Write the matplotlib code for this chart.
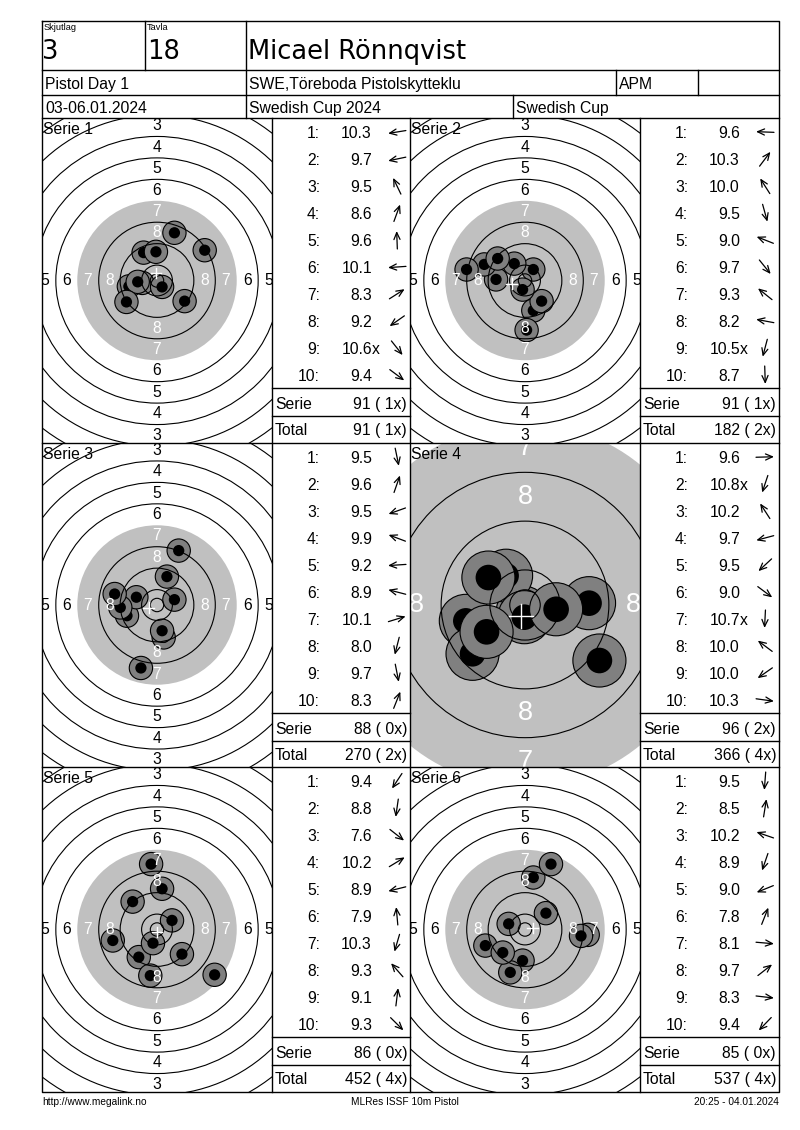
import numpy as np
import matplotlib
matplotlib.use("Agg")
import matplotlib.pyplot as plt
from matplotlib.patches import Circle

# header texts
RELAY = "3"
LANE = "18"
SHOOTER = "Micael Rönnqvist"
EVENT = "Pistol Day 1"
CLUB = "SWE,Töreboda Pistolskytteklu"
CLASS = "APM"
DATES = "03-06.01.2024"
COMPETITION = "Swedish Cup 2024"
CUP = "Swedish Cup"
FOOTER = ["http://www.megalink.no", "MLRes ISSF 10m Pistol", "20:25 - 04.01.2024"]

# decimal scores per series
SCORES = [
    [10.3, 9.7, 9.5, 8.6, 9.6, 10.1, 8.3, 9.2, 10.6, 9.4],
    [9.6, 10.3, 10.0, 9.5, 9.0, 9.7, 9.3, 8.2, 10.5, 8.7],
    [9.5, 9.6, 9.5, 9.9, 9.2, 8.9, 10.1, 8.0, 9.7, 8.3],
    [9.6, 10.8, 10.2, 9.7, 9.5, 9.0, 10.7, 10.0, 10.0, 10.3],
    [9.4, 8.8, 7.6, 10.2, 8.9, 7.9, 10.3, 9.3, 9.1, 9.3],
    [9.5, 8.5, 10.2, 8.9, 9.0, 7.8, 8.1, 9.7, 8.3, 9.4],
]
INNER_TEN = [
    [0, 0, 0, 0, 0, 0, 0, 0, 1, 0],
    [0, 0, 0, 0, 0, 0, 0, 0, 1, 0],
    [0, 0, 0, 0, 0, 0, 0, 0, 0, 0],
    [0, 1, 0, 0, 0, 0, 1, 0, 0, 0],
    [0, 0, 0, 0, 0, 0, 0, 0, 0, 0],
    [0, 0, 0, 0, 0, 0, 0, 0, 0, 0],
]
# shot positions on the target, mm from centre (y up)
SHOT_X = [
    [-5.5, -10.5, -5.0, 6.5, -0.4, -7.2, 17.8, -11.4, 1.9, 10.3],
    [-10.8, 3.1, -4.0, 3.1, -15.2, 6.2, -10.2, -21.8, -0.9, 0.6],
    [2.5, 3.7, -11.2, -7.7, -13.7, -15.8, 6.5, -6.0, 1.9, 8.1],
    [10.5, -0.4, -3.1, -9.7, -8.6, 12.2, -0.1, -6.0, -6.3, 5.1],
    [-6.8, -2.5, 21.5, 5.6, -16.5, -2.2, -1.5, -9.1, 1.9, 9.3],
    [-0.9, 3.1, -6.1, -5.5, -14.8, 9.7, 23.4, 7.8, 20.9, -8.3],
]
SHOT_Y = [
    [-0.9, -2.2, 10.4, 17.8, 10.7, -0.5, 11.3, -8.0, -2.4, -7.7],
    [0.4, 4.1, 6.3, -11.2, 6.0, -7.7, 8.2, 4.1, -3.4, -18.5],
    [-12.1, 10.6, -4.0, 2.9, -0.9, 4.1, 2.0, -23.5, -9.6, 20.3],
    [0.3, -1.2, 4.8, -2.6, -8.0, -9.1, -2.0, 4.5, -4.4, -0.7],
    [-10.3, -17.2, -16.9, 3.4, -4.1, 24.4, -5.1, 10.4, 15.2, -9.2],
    [-11.6, 19.4, 2.1, -16.0, -6.0, 24.4, -2.0, 6.1, -2.4, -8.6],
]
SERIE_SUM = [91, 91, 88, 96, 86, 85]
SERIE_X = [1, 1, 0, 2, 0, 0]
ZOOMED = [False, False, False, True, False, False]

# ISSF 10m pistol ring radii in mm
RING_R = {10: 5.75, 9: 13.75, 8: 21.75, 7: 29.75, 6: 37.75, 5: 45.75,
          4: 53.75, 3: 61.75, 2: 69.75, 1: 77.75}
INNER_R = 2.5

W, H = 800, 1130
LEFT, RIGHT, TOP, BOTTOM = 42, 779, 21, 1092
TARGET_COLS = [(42, 272), (410, 640)]
SCORE_COLS = [(272, 410), (640, 779)]
ROWS = [(118, 443), (443, 767), (767, 1092)]

FONT = ["Liberation Sans", "DejaVu Sans"]
FS = 11.3
GREY = "#c0c0c0"
SHOT_GREY = "#808080"

fig = plt.figure(figsize=(W / 100, H / 100), dpi=100)
bg = fig.add_axes([0, 0, 1, 1])
bg.set_xlim(0, W)
bg.set_ylim(H, 0)
bg.axis("off")
bg.set_zorder(5)
bg.patch.set_alpha(0)


def hline(y, x0=LEFT, x1=RIGHT):
    bg.plot([x0, x1], [y, y], color="black", lw=1)


def vline(x, y0, y1):
    bg.plot([x, x], [y0, y1], color="black", lw=1)


def txt(x, y, s, size=FS, ha="left", family=FONT, **kw):
    # nudge down so the glyphs (not the descent box) sit on y
    bg.text(x, y + size * 0.14, s, fontsize=size, ha=ha, va="center", family=family, **kw)


# frame and header
bg.plot([LEFT, RIGHT, RIGHT, LEFT, LEFT], [TOP, TOP, BOTTOM, BOTTOM, TOP], color="black", lw=1)
for y in (70, 95, 118, 443, 767):
    hline(y)
vline(145, TOP, 70)
vline(246, TOP, 118)
vline(616, 70, 95)
vline(698, 70, 95)
vline(513, 95, 118)
for x in (272, 410, 640):
    vline(x, 118, BOTTOM)

txt(44, 27, "Skjutlag", size=6.7)
txt(147, 27, "Tavla", size=6.7)
big = ["DejaVu Sans"]
txt(42, 49, RELAY, size=18.5, family=big)
txt(147, 49, LANE, size=18.5, family=big)
txt(248, 49, SHOOTER, size=18.5, family=big)
txt(45, 83, EVENT)
txt(249, 83, CLUB)
txt(619, 83, CLASS)
txt(45, 107, DATES)
txt(249, 107, COMPETITION)
txt(516, 107, CUP)

txt(LEFT, 1101, FOOTER[0], size=7.3)
txt(405, 1101, FOOTER[1], size=7.3, ha="center")
txt(RIGHT, 1101, FOOTER[2], size=7.3, ha="right")

totals = np.cumsum(SERIE_SUM)
total_x = np.cumsum(SERIE_X)

for k in range(6):
    row, col = divmod(k, 2)
    y0, y1 = ROWS[row]
    tx0, tx1 = TARGET_COLS[col]
    sx0, sx1 = SCORE_COLS[col]
    xs = np.array(SHOT_X[k])
    ys = np.array(SHOT_Y[k])

    # target panel
    scale = 6.1 if ZOOMED[k] else 2.68
    ax = fig.add_axes([tx0 / W, 1 - y1 / H, (tx1 - tx0) / W, (y1 - y0) / H])
    hw = (tx1 - tx0) / 2 / scale
    hh = (y1 - y0) / 2 / scale
    ax.set_xlim(-hw, hw)
    ax.set_ylim(-hh, hh)
    ax.axis("off")

    ax.add_patch(Circle((0, 0), RING_R[7], facecolor=GREY, edgecolor="none", zorder=1))
    for sx, sy in zip(xs, ys):
        ax.add_patch(Circle((sx, sy), 4.35, facecolor=SHOT_GREY, edgecolor="black", lw=0.8, zorder=2))
        ax.add_patch(Circle((sx, sy), 2.1, facecolor="black", edgecolor="none", zorder=2))
    for n, r in RING_R.items():
        if n == 7:
            continue
        ax.add_patch(Circle((0, 0), r, fill=False, edgecolor="black", lw=0.8, zorder=3))
    ax.add_patch(Circle((0, 0), INNER_R, fill=False, edgecolor="black", lw=0.8, zorder=3))

    lab_fs = 19.5 if ZOOMED[k] else FS
    for n in range(1, 9):
        rr = (RING_R[n] + RING_R[n + 1]) / 2
        c = "white" if n >= 7 else "black"
        spots = []
        if rr < hh:
            spots += [(0, rr), (0, -rr)]
        if rr < hw:
            spots += [(-rr, 0), (rr, 0)]
        for px, py in spots:
            ax.text(px, py, str(n), fontsize=lab_fs, color=c, ha="center", va="center",
                    family=FONT, clip_on=True, zorder=4)

    # mean point of impact
    mx, my = xs.mean(), ys.mean()
    ax.plot([mx - 2, mx + 2], [my, my], color="white", lw=1, zorder=5)
    ax.plot([mx, mx], [my - 2, my + 2], color="white", lw=1, zorder=5)

    txt(tx0 + 1, y0 + 10, f"Serie {k + 1}")

    # score column
    for i, s in enumerate(SCORES[k]):
        yy = y0 + 14 + 27 * i
        txt(sx0 + 48, yy, f"{i + 1}:", ha="right")
        txt(sx0 + 100, yy, f"{s:.1f}", ha="right")
        if INNER_TEN[k][i]:
            txt(sx0 + 100, yy, "x")
        ang = np.arctan2(ys[i], xs[i])
        dx, dy = np.cos(ang) * 9, -np.sin(ang) * 9
        cx = sx0 + 125
        bg.annotate("", xy=(cx + dx, yy + dy), xytext=(cx - dx, yy - dy),
                    arrowprops=dict(arrowstyle="->,head_length=0.5,head_width=0.22",
                                    lw=0.9, color="black", shrinkA=0, shrinkB=0))
    hline(y0 + 270, sx0, sx1)
    hline(y0 + 298, sx0, sx1)
    txt(sx0 + 3, y0 + 285, "Serie")
    txt(sx1 - 3, y0 + 285, f"{SERIE_SUM[k]} ({SERIE_X[k]:2d}x)", ha="right")
    txt(sx0 + 3, y0 + 311, "Total")
    txt(sx1 - 3, y0 + 311, f"{totals[k]} ({total_x[k]:2d}x)", ha="right")

fig.savefig("out.png", dpi=100)
